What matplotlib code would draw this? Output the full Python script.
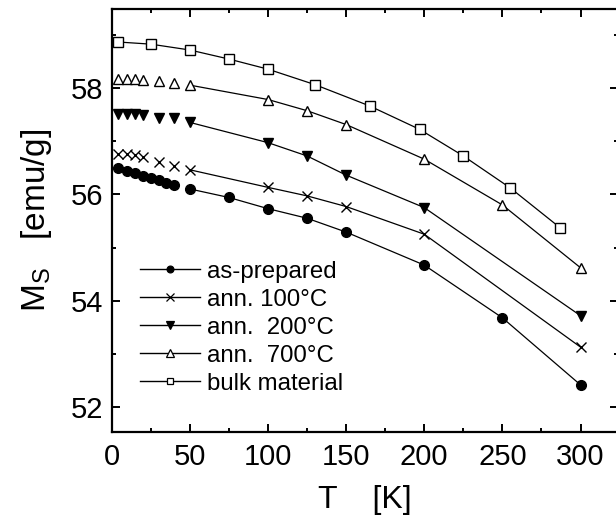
import matplotlib.pyplot as plt
from matplotlib.ticker import MultipleLocator

plt.rcParams['font.family'] = ['Liberation Sans', 'DejaVu Sans']

# as-prepared
t_asprep = [4.2, 10, 15, 20, 25, 30, 35, 40, 50, 75, 100, 125, 150, 200, 250, 300]
m_asprep = [56.49, 56.44, 56.40, 56.35, 56.30, 56.27, 56.22, 56.17, 56.10, 55.94,
            55.73, 55.55, 55.29, 54.67, 53.68, 52.42]

# annealed 100 C
t_ann100 = [4.2, 10, 15, 20, 30, 40, 50, 100, 125, 150, 200, 300]
m_ann100 = [56.76, 56.76, 56.74, 56.70, 56.60, 56.54, 56.46, 56.13, 55.97, 55.77,
            55.25, 53.13]

# annealed 200 C
t_ann200 = [4.2, 10, 15, 20, 30, 40, 50, 100, 125, 150, 200, 300]
m_ann200 = [57.50, 57.50, 57.50, 57.49, 57.44, 57.43, 57.35, 56.97, 56.72, 56.36,
            55.75, 53.72]

# annealed 700 C
t_ann700 = [4.2, 10, 15, 20, 30, 40, 50, 100, 125, 150, 200, 250, 300]
m_ann700 = [58.16, 58.16, 58.16, 58.14, 58.12, 58.09, 58.05, 57.78, 57.57, 57.31,
            56.66, 55.80, 54.62]

# bulk
t_bulk = [4.2, 25, 50, 75, 100, 130, 165, 197, 225, 255, 287]
m_bulk = [58.86, 58.82, 58.71, 58.54, 58.35, 58.06, 57.66, 57.22, 56.72, 56.12, 55.37]

labels = ['as-prepared', 'ann. 100°C', 'ann.  200°C', 'ann.  700°C', 'bulk material']

fig = plt.figure(figsize=(6.16, 5.2), dpi=100)
ax = fig.add_axes([0.1813, 0.1687, 0.822, 0.814])

def series(t, m, marker, label, ms, fill, line_from=0):
    mfc = 'k' if fill else 'white'
    # connecting line (low-T points are not joined)
    ax.plot(t[line_from:], m[line_from:], '-', color='k', lw=0.9, zorder=2)
    ax.plot(t, m, linestyle='none', marker=marker, ms=ms, mfc=mfc, mec='k',
            mew=1.0, zorder=3)
    # legend proxy
    ax.plot([], [], '-', color='k', lw=1.0, marker=marker, ms=ms * 0.7,
            mfc=mfc, mec='k', mew=0.9, label=label)

series(t_asprep, m_asprep, 'o', labels[0], 7, True, 8)
series(t_ann100, m_ann100, 'x', labels[1], 7.5, False, 6)
series(t_ann200, m_ann200, 'v', labels[2], 7.5, True, 6)
series(t_ann700, m_ann700, '^', labels[3], 7.5, False, 6)
series(t_bulk, m_bulk, 's', labels[4], 6.5, False, 0)

ax.set_xlim(0, 324)
ax.set_ylim(51.53, 59.48)
ax.xaxis.set_major_locator(MultipleLocator(50))
ax.xaxis.set_minor_locator(MultipleLocator(25))
ax.yaxis.set_major_locator(MultipleLocator(2))
ax.yaxis.set_minor_locator(MultipleLocator(1))
ax.tick_params(which='both', direction='in', top=True, right=True, width=1.4,
               labelsize=21)
ax.tick_params(which='major', length=5.5)
ax.tick_params(which='minor', length=3)
ax.tick_params(axis='x', pad=8)
ax.tick_params(axis='y', pad=6)
for s in ax.spines.values():
    s.set_linewidth(1.6)

ax.set_xlabel('T    [K]', fontsize=23, labelpad=10)
ax.set_ylabel('M$_\\mathregular{S}$   [emu/g]', fontsize=24, labelpad=12)

ax.legend(loc='upper left', bbox_to_anchor=(0.056, 0.405), frameon=False,
          fontsize=17.3, handlelength=2.5, handletextpad=0.3, labelspacing=0.25,
          borderpad=0, borderaxespad=0)

fig.savefig('out.png', dpi=100)
